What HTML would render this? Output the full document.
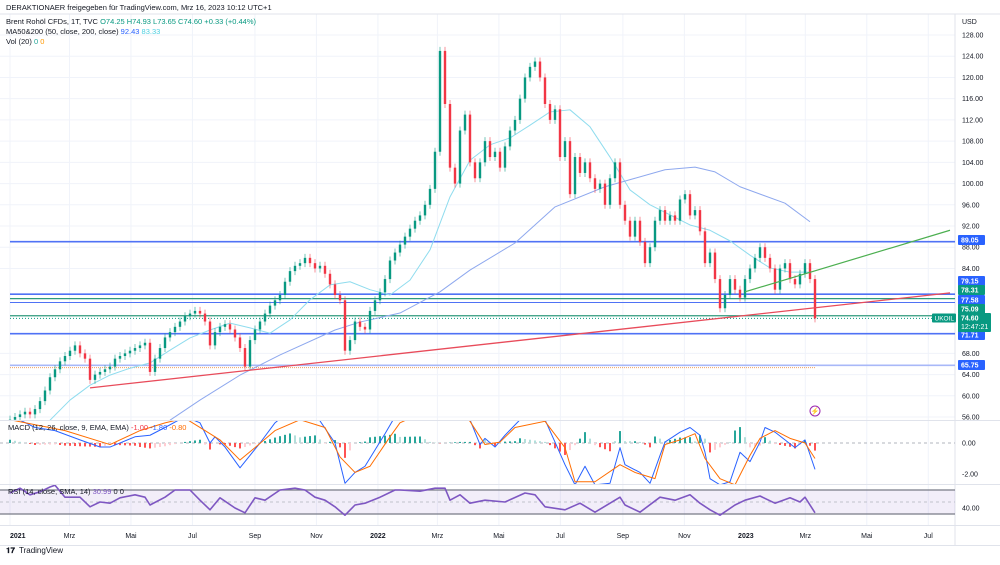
<!DOCTYPE html>
<html><head><meta charset="utf-8"><style>
body{margin:0;background:#fff;width:1000px;height:560px;overflow:hidden;font-family:"Liberation Sans",sans-serif}
svg text{font-family:"Liberation Sans",sans-serif}
</style></head><body>
<svg id="chart" width="1000" height="560" viewBox="0 0 1000 560" xmlns="http://www.w3.org/2000/svg">
<defs>
<clipPath id="mainClip"><rect x="0" y="14" width="955" height="406"/></clipPath>
<clipPath id="macdClip"><rect x="0" y="421" width="955" height="63"/></clipPath>
<clipPath id="rsiClip"><rect x="0" y="485" width="955" height="40"/></clipPath>
</defs>
<text x="6" y="10" font-size="7.5" fill="#131722">DERAKTIONAER freigegeben für TradingView.com, Mrz 16, 2023 10:12 UTC+1</text>
<g id="grid"></g>
<g id="frame">
<line x1="0" y1="14" x2="1000" y2="14" stroke="#e0e3eb" stroke-width="1"/>
<line x1="955" y1="14" x2="955" y2="545" stroke="#e0e3eb" stroke-width="1"/>
<line x1="0" y1="420.5" x2="1000" y2="420.5" stroke="#e0e3eb"/>
<line x1="0" y1="484.5" x2="1000" y2="484.5" stroke="#e0e3eb"/>
<line x1="0" y1="525.5" x2="1000" y2="525.5" stroke="#e0e3eb"/>
<line x1="0" y1="545.5" x2="1000" y2="545.5" stroke="#e0e3eb"/>
</g>
<g id="levels" clip-path="url(#mainClip)"></g>
<g id="ma" clip-path="url(#mainClip)"></g>
<g id="candles" clip-path="url(#mainClip)"></g>
<g id="trend" clip-path="url(#mainClip)"></g>
<g id="macd" clip-path="url(#macdClip)"></g>
<g id="rsi"></g>
<g id="axis"></g>
<g id="taxis"></g>
<text x="6" y="24" font-size="7.5" fill="#131722">Brent Rohöl CFDs, 1T, TVC <tspan fill="#089981">O74.25 H74.93 L73.65 C74.60 +0.33 (+0.44%)</tspan></text>
<text x="6" y="34" font-size="7.5" fill="#131722">MA50&amp;200 (50, close, 200, close) <tspan fill="#2962ff">92.43</tspan> <tspan fill="#4dd0e1">83.33</tspan></text>
<text x="6" y="44" font-size="7.5" fill="#131722">Vol (20) <tspan fill="#26a69a">0</tspan> <tspan fill="#ff9800">0</tspan></text>
<text x="8" y="430" font-size="7.5" fill="#131722">MACD (12, 26, close, 9, EMA, EMA) <tspan fill="#f23645">-1.00</tspan> <tspan fill="#2962ff">-1.80</tspan> <tspan fill="#ff6d00">-0.80</tspan></text>
<text x="8" y="494" font-size="7.5" fill="#131722">RSI (14, close, SMA, 14) <tspan fill="#7e57c2">30.99</tspan> 0 0</text>
<circle cx="815" cy="411" r="5" fill="none" stroke="#9c27b0" stroke-width="1"/>
<text x="815" y="413.5" font-size="7" fill="#9c27b0" text-anchor="middle">⚡</text>
<text x="6" y="553" font-size="8" font-weight="bold" fill="#131722">𝟏𝟕</text>
<text x="19" y="553" font-size="8" fill="#131722">TradingView</text>
</svg>
<script>
const NS="http://www.w3.org/2000/svg";
// ---- data ----
const closes=[55.5,56,56.5,57,56.5,57.5,59,61,63.5,65,66.5,67.5,68.5,69.5,68,67,63,64,64.5,65,65.5,67,67.5,68,68.5,69,69.5,70,64.5,67,69,71,72,73,74,75,75.5,76,75.5,74,69.5,72,73,73.5,72.5,71,69,65.5,70.5,72.5,74,75.5,77,78,79,81.5,83.5,84.5,85,86,85,84,84.5,83,81,79,78,68.5,70.5,74,73,72.5,76,78,79.5,82,85.5,87,88.5,90,91.5,93,94,96,99,106,125,115,103,100,110,113,104,101,104,108,105,106,103,107,110,112,116,120,122,123,120,115,112,114,105,108,98,105,102,104,101,99,100,96,101,104,96,93,90,93,89,85,88,93,95,93,94,93,97,98,94,95,91,85,87,82,76.5,79,82,80,78.5,82,84,86,88,86,84,80,84,85,82,81,83,85,82,74.6];
const ma50Start=8, ma50Step=4;
const ma50=[55.4,59.2,62,63.9,65.2,66.2,68.6,70.9,72.4,73.7,72.8,71.8,74.3,78.1,80.9,81.5,80,79,81.8,87.5,97.5,104.4,107.3,108.6,111,113.5,113.9,110.7,105,98.8,96,94.1,92.2,91.2,89.2,86.5,84.1,83.3,83.3];
const ma200Idx=[32,38,46,54,65,70,78,86,92,101,109,119,125,131,137,141,146,155,160];
const ma200Val=[55.4,59.2,63.9,67.7,72.4,73.9,75.6,79.6,83.7,88.8,95.6,99.4,101,102.6,103.1,102.2,99.4,96.3,92.8];
const macdIdx=[0,5,9,14,18,20,25,28,31,35,38,40,41,43,46,50,53,56,61,65,67,69,71,75,77,82,86,90,92,94,95,97,99,102,107,109,111,113,115,117,120,122,123,126,128,130,131,134,136,138,139,140,142,144,146,148,150,151,153,155,157,159,161];
const macdVal=[1.8,1.0,0.8,0.2,-0.26,-0.26,0.4,0.5,1.0,1.7,1.3,0,0.4,-0.26,-1.6,0,1.3,2.1,1.9,0,-2.6,-1.9,-1.5,0.6,1.7,2.5,2.1,2.1,1.5,-0.1,0.3,-0.26,0.5,1.5,1.5,0.06,-1.4,-2.7,-1.5,-2.7,-2.6,-0.3,-1.4,-1.9,-2.6,-0.8,0.06,0.7,1.0,0.5,-0.6,-2.3,-2.7,-2.5,-0.6,-1.2,0.06,1.0,0.7,0.2,-0.3,0.2,-1.7];
const sigIdx=[0,11,20,26,31,35,39,42,46,49,53,58,63,66,69,72,76,78,84,90,92,95,98,101,107,111,113,117,122,125,129,131,134,137,139,142,145,148,150,153,156,159,161];
const sigVal=[1.5,0.8,-0.1,0.8,1.3,1.6,0.8,0.2,-1.1,-0.3,0.8,1.5,1.0,-0.9,-1.9,-1.5,0.4,1.3,2.2,2.0,1.4,-0.1,0.06,1.0,1.4,-0.3,-2.5,-2.5,-1.4,-1.9,-2.3,-0.1,0.2,0.6,-1.0,-2.3,-2.7,-0.8,0.3,0.8,0.3,0,-1.0];
const rsiIdx=[0,2,4,6,8,9,11,14,16,18,20,22,25,27,28,31,33,36,38,40,42,45,47,49,51,54,57,59,61,63,65,67,69,71,74,77,78,82,85,87,88,90,92,95,99,103,105,107,111,114,117,120,122,123,126,130,133,136,138,140,142,145,147,150,153,156,158,159,161];
const rsiVal=[65,73,62,67,75,78,58,58,42,50,48,57,62,58,45,58,70,70,53,37,57,40,32,57,53,70,73,70,58,53,42,28,45,48,58,70,70,68,73,73,53,62,48,53,50,65,62,42,37,48,33,48,58,45,33,58,53,62,48,37,28,45,53,60,48,57,50,58,32];
const priceTicks=[128,124,120,116,112,108,104,100,96,92,88,84,68,64,60,56];
const levelPrices=[89.05,79.15,77.58,71.71,65.75];
const greenLevels=[78.31,75.09];
const orangeLevel=65.3;
const lastPrice=74.60;
const trendRed=[[16,61.5],[188,79.4]];
const trendGreen=[[147,79.6],[188,91.2]];
const monthLabels=["2021","Mrz","Mai","Jul","Sep","Nov","2022","Mrz","Mai","Jul","Sep","Nov","2023","Mrz","Mai","Jul"];
const monthDays=[0,59,120,181,243,304,365,424,485,546,608,669,730,789,850,911];
const badges=[["89.05","#2962ff",240],["79.15","#2962ff",281],["78.31","#089981",290],["77.58","#2962ff",300],["75.09","#089981",309],["71.71","#2962ff",335],["65.75","#2962ff",365]];
// ---- scales ----
const X0=10,X1=815,N=closes.length;
const xS=i=>X0+i*(X1-X0)/(N-1);
const yP=p=>35+(128-p)*5.306;
const yM=v=>443-v*15.5;
const yR=v=>514-(v-30)*0.6;
const xD=d=>10+d*1.008;
function mk(tag,attrs,parent){const e=document.createElementNS(NS,tag);for(const k in attrs)e.setAttribute(k,attrs[k]);parent.appendChild(e);return e;}
const G=id=>document.getElementById(id);
monthDays.forEach((d,i)=>{const l=mk('line',{x1:xD(d),x2:xD(d),y1:14,y2:525,stroke:'#f0f3fa'},G('grid'));

});
priceTicks.forEach(p=>{const l=mk('line',{x1:0,x2:955,y1:yP(p),y2:yP(p),stroke:'#f0f3fa'},G('grid'));

});
levelPrices.forEach((p,i)=>{const l=mk('line',{x1:10,x2:955,y1:yP(p),y2:yP(p),stroke:i==4?'#a8b8f8':'#4f72f5','stroke-width':i==2?1:1.6},G('levels'));

});
greenLevels.forEach(p=>{const l=mk('line',{x1:10,x2:955,y1:yP(p),y2:yP(p),stroke:'#2e9a7c','stroke-width':1.2},G('levels'));

});
{const l=mk('line',{x1:10,x2:815,y1:yP(orangeLevel),y2:yP(orangeLevel),stroke:'#f0a060','stroke-width':1,'stroke-dasharray':'1,1'},G('levels'));

}
{const l=mk('line',{x1:10,x2:955,y1:yP(lastPrice),y2:yP(lastPrice),stroke:'#089981','stroke-width':1,'stroke-dasharray':'1,2'},G('levels'));

}
function poly(pts,stroke,w,parent,name){const l=mk('polyline',{points:pts.map(p=>p.join(',')).join(' '),fill:'none',stroke:stroke,'stroke-width':w,'stroke-linejoin':'round'},parent);

return l;}
poly(ma50.map((v,k)=>[xS(ma50Start+k*ma50Step),yP(v)]),'#8fdcee',1,G('ma'),'ma50-line');
poly(ma200Idx.map((d,k)=>[xS(d),yP(ma200Val[k])]),'#8ea8ee',1,G('ma'),'ma200-line');
closes.forEach((c,i)=>{const o=i?closes[i-1]:c;const up=c>=o;const col=up?'#089981':'#f23645';
const top=yP(Math.max(o,c)),bot=yP(Math.min(o,c));
const w=mk('line',{x1:xS(i),x2:xS(i),y1:top-4,y2:bot+4,stroke:col,'stroke-width':1,opacity:0.55},G('candles'));


const r=mk('rect',{x:xS(i)-1.2,y:top,width:2.4,height:Math.max(1,bot-top),fill:col},G('candles'));

});
{const l=mk('line',{x1:xS(trendRed[0][0]),y1:yP(trendRed[0][1]),x2:xS(trendRed[1][0]),y2:yP(trendRed[1][1]),stroke:'#e84b5a','stroke-width':1.3},G('trend'));

}
{const l=mk('line',{x1:xS(trendGreen[0][0]),y1:yP(trendGreen[0][1]),x2:xS(trendGreen[1][0]),y2:yP(trendGreen[1][1]),stroke:'#4caf50','stroke-width':1.2},G('trend'));

}
function interp(xs,vs,i){if(i<=xs[0])return vs[0];for(let k=1;k<xs.length;k++){if(i<=xs[k]){const t=(i-xs[k-1])/(xs[k]-xs[k-1]);return vs[k-1]+t*(vs[k]-vs[k-1]);}}return vs[vs.length-1];}
{const z=mk('line',{x1:0,x2:955,y1:443,y2:443,stroke:'#b2b5be','stroke-dasharray':'3,3'},G('macd'));

}
let prevH=0;
for(let i=0;i<N;i++){const h=interp(macdIdx,macdVal,i)-interp(sigIdx,sigVal,i);
const grow=Math.abs(h)>=Math.abs(prevH);prevH=h;
const col=h>=0?(grow?'#26a69a':'#b2dfdb'):(grow?'#ff5252':'#ffcdd2');
const b=mk('rect',{x:xS(i)-1,y:Math.min(yM(0),yM(h*0.7)),width:2,height:Math.abs(yM(h*0.7)-yM(0)),fill:col},G('macd'));

}
poly(macdIdx.map((d,k)=>[xS(d),yM(macdVal[k])]),'#2962ff',1,G('macd'),'macd-line');
poly(sigIdx.map((d,k)=>[xS(d),yM(sigVal[k])]),'#ff6d00',1,G('macd'),'signal-line');
{const bg=mk('rect',{x:0,y:yR(70),width:955,height:yR(30)-yR(70),fill:'#7e57c2','fill-opacity':0.1},G('rsi'));


[70,30].forEach(v=>{const l=mk('line',{x1:0,x2:955,y1:yR(v),y2:yR(v),stroke:'#787b86','stroke-width':1.3},G('rsi'));

});
const m=mk('line',{x1:0,x2:955,y1:yR(50),y2:yR(50),stroke:'#c0c3cc','stroke-dasharray':'3,3'},G('rsi'));

}
const rl=poly(rsiIdx.map((d,k)=>[xS(d),yR(rsiVal[k])]),'#7e57c2',1.6,G('rsi'),'rsi-line');
rl.setAttribute('clip-path','url(#rsiClip)');
{const t=mk('text',{x:962,y:24,'font-size':7,fill:'#131722'},G('axis'));t.textContent='USD';

}
priceTicks.forEach(p=>{const t=mk('text',{x:962,y:yP(p)+2.5,'font-size':7,fill:'#131722'},G('axis'));t.textContent=p.toFixed(2);

});
[["0.00",443],["-2.00",474],["40.00",508]].forEach(a=>{const t=mk('text',{x:962,y:a[1]+2.5,'font-size':7,fill:'#131722'},G('axis'));t.textContent=a[0];

});
badges.forEach(b=>{const r=mk('rect',{x:958,y:b[2]-5,width:27,height:10,fill:b[1],rx:1},G('axis'));


const t=mk('text',{x:961,y:b[2]+2.5,'font-size':7,fill:'#fff','font-weight':'bold'},G('axis'));t.textContent=b[0];

});
{const r=mk('rect',{x:958,y:313,width:33,height:19,fill:'#089981',rx:1},G('axis'));


const t=mk('text',{x:961,y:320.5,'font-size':7,fill:'#fff','font-weight':'bold'},G('axis'));t.textContent=lastPrice.toFixed(2);


const t2=mk('text',{x:961,y:329,'font-size':7,fill:'#fff'},G('axis'));t2.textContent='12:47:21';


const r2=mk('rect',{x:932,y:313.5,width:24,height:9,fill:'#089981',rx:1},G('axis'));


const t3=mk('text',{x:934.5,y:320.5,'font-size':6.5,fill:'#fff'},G('axis'));t3.textContent='UKOIL';

}
monthLabels.forEach((m,i)=>{const bold=/^\d/.test(m);const t=mk('text',{x:xD(monthDays[i]),y:538,'font-size':7,fill:'#131722','text-anchor':i==0?'start':'middle','font-weight':bold?'bold':'normal'},G('taxis'));t.textContent=m;

});
</script>
</body></html>
